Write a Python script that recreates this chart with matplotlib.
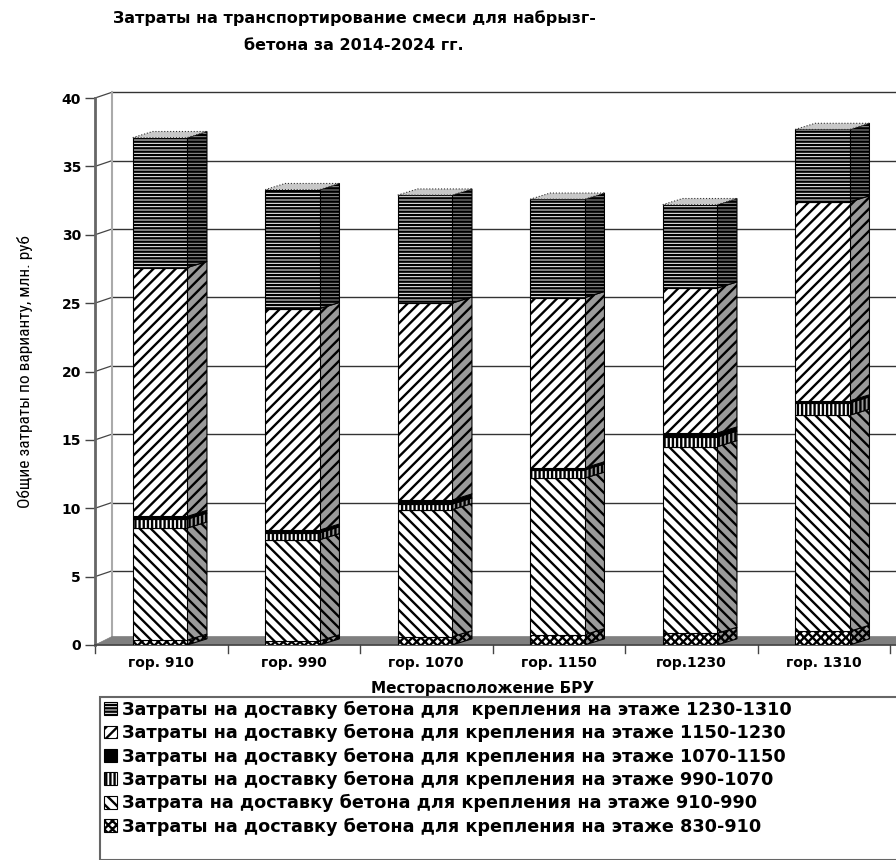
import matplotlib
matplotlib.use("Agg")
import matplotlib.pyplot as plt
from matplotlib.patches import Polygon, Patch, Rectangle
from matplotlib import font_manager
import numpy as np

plt.rcParams['font.family'] = ['DejaVu Sans']
plt.rcParams['hatch.linewidth'] = 1.7

categories = ["гор. 910", "гор. 990", "гор. 1070", "гор. 1150", "гор.1230", "гор. 1310"]

s_830_910 = [0.35, 0.3, 0.6, 0.75, 0.85, 1.0]
s_910_990 = [8.2, 7.4, 9.3, 11.45, 13.65, 15.8]
s_990_1070 = [0.65, 0.5, 0.4, 0.6, 0.7, 0.9]
s_1070_1150 = [0.2, 0.2, 0.3, 0.15, 0.3, 0.15]
s_1150_1230 = [18.2, 16.2, 14.4, 12.45, 10.6, 14.55]
s_1230_1310 = [9.5, 8.7, 7.9, 7.2, 6.1, 5.3]

series_labels = [
    "Затраты на доставку бетона для крепления на этаже 830-910",
    "Затрата на доставку бетона для крепления на этаже 910-990",
    "Затраты на доставку бетона для крепления на этаже 990-1070",
    "Затраты на доставку бетона для крепления на этаже 1070-1150",
    "Затраты на доставку бетона для крепления на этаже 1150-1230",
    "Затраты на доставку бетона для  крепления на этаже 1230-1310",
]
series = [s_830_910, s_910_990, s_990_1070, s_1070_1150, s_1150_1230, s_1230_1310]
hatches = ['xxxx', '\\\\\\', '||||', '', '///', '-----']
faces = ['white', 'white', 'white', 'black', 'white', 'white']

yticks = [0, 5, 10, 15, 20, 25, 30, 35, 40]

# pick a narrow font for the y label if available
names = {f.name for f in font_manager.fontManager.ttflist}
narrow = [n for n in ['Liberation Sans Narrow', 'DejaVu Sans Condensed', 'Roboto Condensed',
                      'Open Sans Condensed'] if n in names]
ylabel_family = (narrow[:1] or ['Roboto']) + ['DejaVu Sans']

fig = plt.figure(figsize=(8.96, 8.6), dpi=100)
ax = fig.add_axes([95/896, 1-645/860, 801/896, (645-98)/860])
xmax = (896-95)/132.5 - 0.5
ax.set_xlim(-0.5, xmax)
ax.set_ylim(0, 40)

# 3D geometry offsets (data units)
dx_wall = 17/132.5
dy_wall = 0.42
dx_bar = 0.15
dy_bar = 0.45
width = 0.41
x = np.arange(len(categories)) - 0.01

# back wall gridlines
for v in yticks:
    ax.plot([-0.5 + dx_wall, xmax], [v + dy_wall, v + dy_wall], color='#333333' if v else '#888888',
            lw=1.0, clip_on=False, zorder=1)
    ax.plot([-0.5, -0.5 + dx_wall], [v, v + dy_wall], color='#444444', lw=0.9, clip_on=False, zorder=1)
ax.plot([-0.5 + dx_wall, -0.5 + dx_wall], [dy_wall, 40 + dy_wall], color='#aaaaaa', lw=1.5, clip_on=False, zorder=1)

# floor
ax.add_patch(Polygon([(-0.5, 0), (-0.5 + dx_wall, dy_wall + 0.2), (xmax, dy_wall + 0.2), (xmax, 0)],
                     closed=True, facecolor='#7f7f7f', edgecolor='#7f7f7f', lw=0.5, zorder=2, clip_on=False))

# bars
bottom = np.zeros(len(categories))
for k, (vals, h, fc) in enumerate(zip(series, hatches, faces)):
    vals = np.array(vals)
    ax.bar(x, vals, width=width, bottom=bottom, color=fc, edgecolor='black', hatch=h,
           lw=0.8, zorder=4)
    for i in range(len(categories)):
        xr = x[i] + width/2
        b, t = bottom[i], bottom[i] + vals[i]
        side = Polygon([(xr, b), (xr + dx_bar, b + dy_bar), (xr + dx_bar, t + dy_bar), (xr, t)],
                       closed=True, facecolor='black' if fc == 'black' else '#9a9a9a',
                       edgecolor='black', hatch=h, lw=0.8, zorder=3)
        ax.add_patch(side)
    bottom = bottom + vals

for i in range(len(categories)):
    xl = x[i] - width/2
    xr = x[i] + width/2
    T = bottom[i]
    top = Polygon([(xl, T), (xl + dx_bar, T + dy_bar), (xr + dx_bar, T + dy_bar), (xr, T)],
                  closed=True, facecolor='#c8c8c8', edgecolor='#333333', lw=0.8, ls=':', zorder=5,
                  clip_on=False)
    ax.add_patch(top)

# axes styling
for s in ['top', 'right']:
    ax.spines[s].set_visible(False)
ax.spines['left'].set_color('#666666')
ax.spines['left'].set_linewidth(2)
ax.spines['bottom'].set_color('#444444')
ax.spines['bottom'].set_linewidth(1.2)
ax.set_yticks(yticks)
ax.set_yticklabels([str(v) for v in yticks], fontsize=10, fontweight='bold')
ax.tick_params(axis='y', length=7, width=1, color='#444444', pad=3)
ax.set_xticks(np.arange(len(categories)))
ax.set_xticklabels(categories, fontsize=10, fontweight='bold')
ax.tick_params(axis='x', length=0, pad=8)
for xb in np.arange(-0.5, len(categories), 1.0):
    ax.plot([xb, xb], [0, -0.6], color='#444444', lw=1, clip_on=False)

ax.set_ylabel("Общие затраты по варианту, млн. руб", fontsize=12.5, family=ylabel_family,
              fontstretch='condensed')
ax.yaxis.set_label_coords(-0.077, 0.5)

fig.text(483/896, 1-688/860, "Месторасположение БРУ", fontsize=11, fontweight='bold',
         ha='center', va='center')

fig.text(354/896, 1-18/860, "Затраты на транспортирование смеси для набрызг-", fontsize=11.5,
         fontweight='bold', ha='center', va='center')
fig.text(354/896, 1-45/860, "бетона за 2014-2024 гг.", fontsize=11.5,
         fontweight='bold', ha='center', va='center')

# legend
handles = [Patch(facecolor=fc, edgecolor='black', hatch=h, lw=0.8) for h, fc in zip(hatches, faces)]
leg = fig.legend(handles[::-1], series_labels[::-1], loc='upper left',
                 bbox_to_anchor=(100/896, 1-697/860), frameon=False,
                 prop={'size': 12.7, 'weight': 'bold'}, handlelength=0.75, handleheight=0.75,
                 handletextpad=0.3, labelspacing=0.3, borderaxespad=0, borderpad=0.2)
fig.patches.append(Rectangle((100/896, 0), 1.0, (860-697)/860, transform=fig.transFigure,
                             fill=False, edgecolor='#666666', lw=1.5))

fig.savefig("out.png", dpi=100)
